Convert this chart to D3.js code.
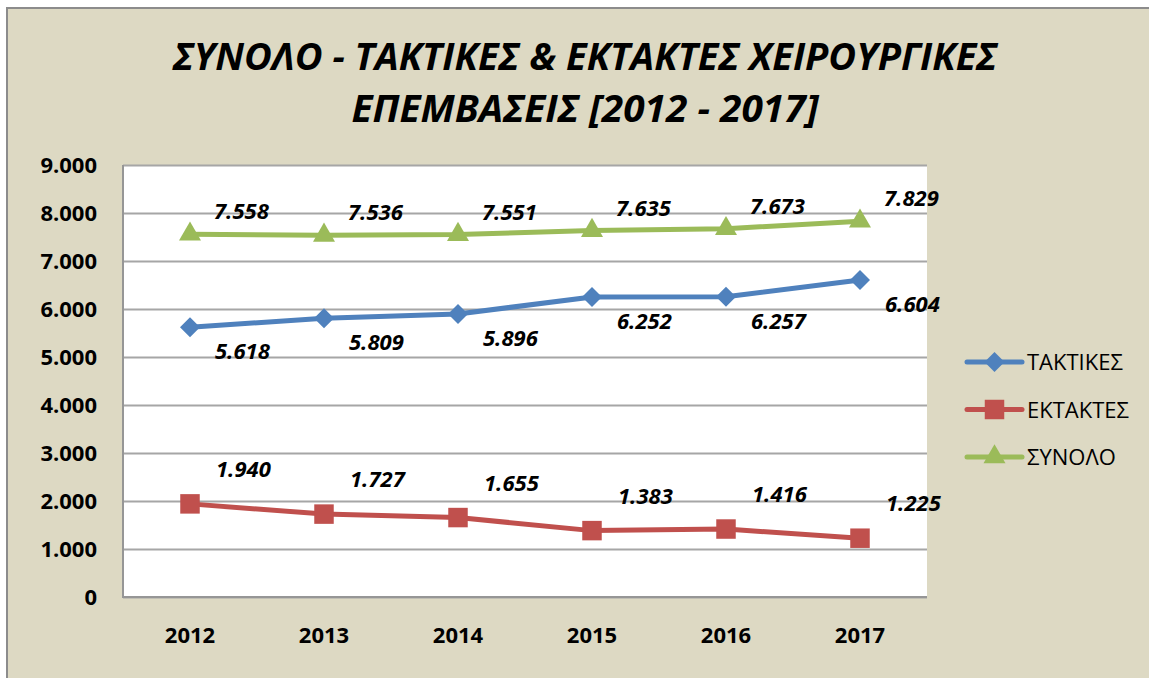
<!DOCTYPE html>
<html>
<head>
<meta charset="utf-8">
<script src="https://cdn.jsdelivr.net/npm/d3@7"></script>
<style>
  html, body { margin: 0; padding: 0; background: #fff; }
  svg { display: block; }
  text { font-family: "Open Sans", "Noto Sans", sans-serif; }
</style>
</head>
<body>
<div id="chart"></div>
<script>
// chart data
const years = ["2012", "2013", "2014", "2015", "2016", "2017"];
const taktikes = [5618, 5809, 5896, 6252, 6257, 6604];
const ektaktes = [1940, 1727, 1655, 1383, 1416, 1225];
const synolo = [7558, 7536, 7551, 7635, 7673, 7829];
const yTicks = [0, 1000, 2000, 3000, 4000, 5000, 6000, 7000, 8000, 9000];
const seriesNames = ["ΤΑΚΤΙΚΕΣ", "ΕΚΤΑΚΤΕΣ", "ΣΥΝΟΛΟ"];
const titleLines = ["ΣΥΝΟΛΟ - ΤΑΚΤΙΚΕΣ & ΕΚΤΑΚΤΕΣ ΧΕΙΡΟΥΡΓΙΚΕΣ", "ΕΠΕΜΒΑΣΕΙΣ [2012 - 2017]"];

const width = 1149, height = 678;
const plot = {left: 123, right: 927, top: 165, bottom: 597};

const grLocale = d3.formatLocale({decimal: ",", thousands: ".", grouping: [3], currency: ["", "€"]});
const fmt = grLocale.format(",d");

const svg = d3.select("#chart").append("svg")
  .attr("width", width)
  .attr("height", height);

// background + outer border
svg.append("rect")
  .attr("x", 7).attr("y", 8)
  .attr("width", width + 10).attr("height", height + 10)
  .attr("fill", "#DDD9C3")
  .attr("stroke", "#8C8C8C")
  .attr("stroke-width", 2);

// title
const titleWidths = [824, 467];
svg.append("g").selectAll("text")
  .data(titleLines)
  .join("text")
  .attr("x", 585)
  .attr("y", (d, i) => 70 + i * 52)
  .attr("text-anchor", "middle")
  .attr("font-size", 38)
  .attr("font-weight", "bold")
  .attr("font-style", "italic")
  .attr("textLength", (d, i) => titleWidths[i])
  .attr("lengthAdjust", "spacingAndGlyphs")
  .text(d => d);

const x = d3.scaleBand().domain(years).range([plot.left, plot.right]);
const cx = d => x(d) + x.bandwidth() / 2;
const y = d3.scaleLinear().domain([0, 9000]).range([plot.bottom, plot.top]);

// plot area
svg.append("rect")
  .attr("x", plot.left).attr("y", plot.top)
  .attr("width", plot.right - plot.left).attr("height", plot.bottom - plot.top)
  .attr("fill", "#fff");

// gridlines
const grid = svg.append("g")
  .attr("transform", `translate(${plot.left},0)`)
  .call(d3.axisLeft(y).tickValues(yTicks).tickSize(-(plot.right - plot.left)).tickFormat(""));
grid.select(".domain").remove();
grid.selectAll("line").attr("stroke", "#A6A6A6").attr("stroke-width", 2);

// plot border left + bottom
svg.append("path")
  .attr("d", `M${plot.left},${plot.top}V${plot.bottom}H${plot.right}`)
  .attr("fill", "none")
  .attr("stroke", "#969696")
  .attr("stroke-width", 2);

// y axis labels
const yAxis = svg.append("g")
  .attr("transform", `translate(${plot.left},0)`)
  .call(d3.axisLeft(y).tickValues(yTicks).tickSize(0).tickPadding(26).tickFormat(fmt));
yAxis.select(".domain").remove();
yAxis.selectAll("text")
  .attr("font-size", 22)
  .attr("font-weight", "bold")
  .attr("fill", "#000")
  .attr("font-family", "'Open Sans', sans-serif");

// x axis labels
const xAxis = svg.append("g")
  .attr("transform", `translate(0,${plot.bottom})`)
  .call(d3.axisBottom(x).tickSize(0).tickPadding(30));
xAxis.select(".domain").remove();
xAxis.selectAll("text")
  .attr("font-size", 22)
  .attr("font-weight", "bold")
  .attr("fill", "#000")
  .attr("font-family", "'Open Sans', sans-serif");

const series = [
  {name: seriesNames[0], values: taktikes, color: "#4F81BD", symbol: d3.symbolSquare, size: 200, rot: 45, dx: 25, dy: 32},
  {name: seriesNames[1], values: ektaktes, color: "#C0504D", symbol: d3.symbolSquare, size: 380, rot: 0, dx: 26, dy: -27},
  {name: seriesNames[2], values: synolo, color: "#9BBB59", symbol: d3.symbolTriangle, size: 210, rot: 0, dx: 24, dy: -15}
];

const line = d3.line().x((d, i) => cx(years[i])).y(d => y(d));

series.forEach(s => {
  const g = svg.append("g");
  g.append("path")
    .datum(s.values)
    .attr("d", line)
    .attr("fill", "none")
    .attr("stroke", s.color)
    .attr("stroke-width", 5)
    .attr("stroke-linejoin", "round");
  g.selectAll("path.marker")
    .data(s.values)
    .join("path")
    .attr("class", "marker")
    .attr("transform", (d, i) => `translate(${cx(years[i])},${y(d)}) rotate(${s.rot})`)
    .attr("d", d3.symbol().type(s.symbol).size(s.size))
    .attr("fill", s.color);
  g.selectAll("text")
    .data(s.values)
    .join("text")
    .attr("x", (d, i) => cx(years[i]) + s.dx)
    .attr("y", d => y(d) + s.dy)
    .attr("font-size", 22)
    .attr("font-weight", "bold")
    .attr("font-style", "italic")
    .attr("fill", "#000")
    .text(d => fmt(d));
});

// legend
const legend = svg.append("g").attr("transform", "translate(967,362)");
series.forEach((s, i) => {
  const row = legend.append("g").attr("transform", `translate(0,${i * 47.5})`);
  row.append("line")
    .attr("x1", 0).attr("x2", 55)
    .attr("stroke", s.color).attr("stroke-width", 5).attr("stroke-linecap", "round");
  row.append("path")
    .attr("transform", `translate(27.5,0) rotate(${s.rot})`)
    .attr("d", d3.symbol().type(s.symbol).size(s.size))
    .attr("fill", s.color);
  row.append("text")
    .attr("x", 60).attr("y", 8)
    .attr("font-size", 22)
    .attr("fill", "#000")
    .text(s.name);
});
</script>
</body>
</html>
